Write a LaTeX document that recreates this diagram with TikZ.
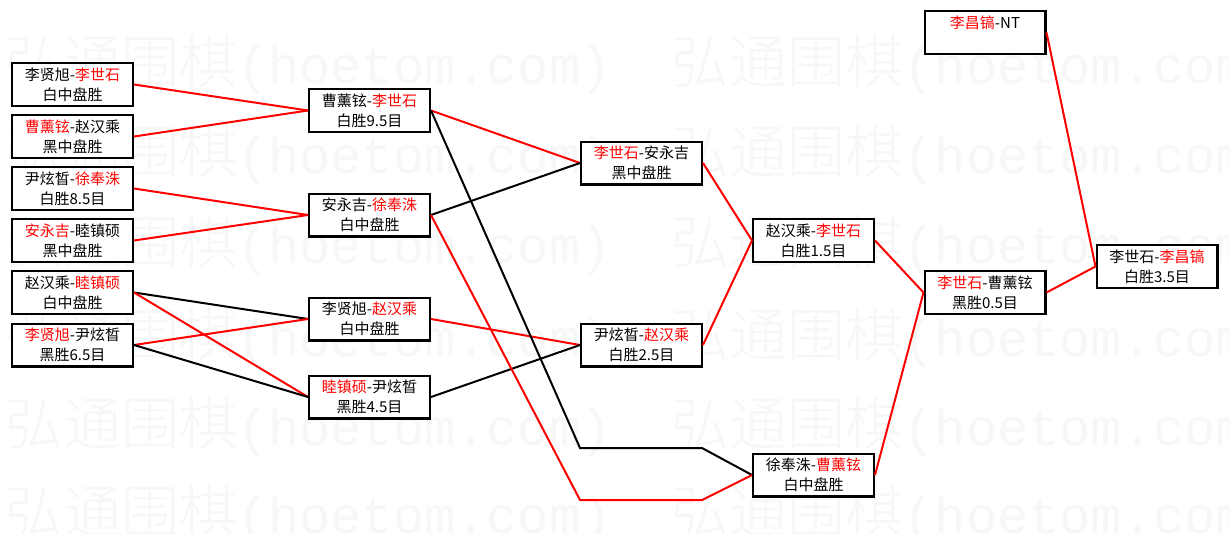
\documentclass[tikz,border=0pt]{standalone}
\usepackage{fontspec}
\newfontfamily\cjk{Noto Sans CJK SC}
\newfontfamily\wmcjk{Noto Sans CJK SC Light}
\newfontfamily\wmmono{Liberation Mono}
\newcommand{\rd}[1]{\textcolor{red}{#1}}
\newcommand{\wmark}{{\wmcjk\fontsize{58}{58}\selectfont 弘通围棋}{\wmmono\fontsize{52}{52}\selectfont(hoetom.com)}}

\begin{document}
\begin{tikzpicture}[x=1pt, y=-1pt,
    % Define the style for the game boxes
    game/.style={draw, line width=2.4pt, fill=white, minimum width=120.6pt, minimum height=42.6pt,
        inner sep=0pt, align=center, font=\cjk\fontsize{15}{20}\selectfont},
    % Define the styles for the connectors
    redline/.style={red, line width=2pt},
    blackline/.style={black, line width=2pt},
    watermark/.style={black!3, anchor=west, inner sep=0pt}
]
\useasboundingbox (0,0) rectangle (1229,533);
\fill[white] (0,0) rectangle (1229,533);

% Background watermark
\foreach \y [count=\i] in {65,155,245,338,427,515} {
    \node[watermark] (wm\i) at (5,\y) {\wmark\hspace{60pt}\wmark};
}

% Define the points of the boxes
\coordinate (A1) at (72.5,84.5);
\coordinate (A2) at (72.5,136.5);
\coordinate (A3) at (72.5,188.5);
\coordinate (A4) at (72.5,240.5);
\coordinate (A5) at (72.5,292.5);
\coordinate (A6) at (72.5,345);
\coordinate (B1) at (369.5,110.5);
\coordinate (B2) at (369.5,215);
\coordinate (B3) at (369.5,319);
\coordinate (B4) at (369.5,397);
\coordinate (C1) at (641.5,163);
\coordinate (C2) at (641.5,345);
\coordinate (D1) at (813.5,240.5);
\coordinate (D2) at (813.5,475);
\coordinate (E0) at (985,32.5);
\coordinate (E1) at (985,292.5);
\coordinate (F) at (1157,266.5);

% Round one
\node[game] (a1) at (A1) {李贤旭-\rd{李世石}\\白中盘胜};
\node[game] (a2) at (A2) {\rd{曹薰铉}-赵汉乘\\黑中盘胜};
\node[game] (a3) at (A3) {尹炫晳-\rd{徐奉洙}\\白胜8.5目};
\node[game] (a4) at (A4) {\rd{安永吉}-睦镇硕\\黑中盘胜};
\node[game] (a5) at (A5) {赵汉乘-\rd{睦镇硕}\\白中盘胜};
\node[game] (a6) at (A6) {\rd{李贤旭}-尹炫晳\\黑胜6.5目};

% Round two
\node[game] (b1) at (B1) {曹薰铉-\rd{李世石}\\白胜9.5目};
\node[game] (b2) at (B2) {安永吉-\rd{徐奉洙}\\白中盘胜};
\node[game] (b3) at (B3) {李贤旭-\rd{赵汉乘}\\白中盘胜};
\node[game] (b4) at (B4) {\rd{睦镇硕}-尹炫晳\\黑胜4.5目};

% Round three
\node[game] (c1) at (C1) {\rd{李世石}-安永吉\\黑中盘胜};
\node[game] (c2) at (C2) {尹炫晳-\rd{赵汉乘}\\白胜2.5目};

% Round four
\node[game] (d1) at (D1) {赵汉乘-\rd{李世石}\\白胜1.5目};
\node[game] (d2) at (D2) {徐奉洙-\rd{曹薰铉}\\白中盘胜};

% Final rounds
\node[game] (e0) at (E0) {\rd{李昌镐}-NT\\\phantom{白}};
\node[game] (e1) at (E1) {\rd{李世石}-曹薰铉\\黑胜0.5目};
\node[game] (f) at (F) {李世石-\rd{李昌镐}\\白胜3.5目};

% Bends of the long connectors
\coordinate (k1) at (580,448);
\coordinate (k2) at (702,448);
\coordinate (k3) at (580,500);
\coordinate (k4) at (702,500);

% Draw the connectors
\draw[redline] (a1.east) -- (b1.west);
\draw[redline] (a2.east) -- (b1.west);
\draw[redline] (a3.east) -- (b2.west);
\draw[redline] (a4.east) -- (b2.west);
\draw[blackline] (a5.east) -- (b3.west);
\draw[redline] (a5.east) -- (b4.west);
\draw[redline] (a6.east) -- (b3.west);
\draw[blackline] (a6.east) -- (b4.west);

\draw[redline] (b1.east) -- (c1.west);
\draw[blackline] (b2.east) -- (c1.west);
\draw[redline] (b3.east) -- (c2.west);
\draw[blackline] (b4.east) -- (c2.west);
\draw[blackline] (b1.east) -- (k1) -- (k2) -- (d2.west);
\draw[redline] (b2.east) -- (k3) -- (k4) -- (d2.west);

\draw[redline] (c1.east) -- (d1.west);
\draw[redline] (c2.east) -- (d1.west);
\draw[redline] (d1.east) -- (e1.west);
\draw[redline] (d2.east) -- (e1.west);
\draw[redline] (e0.east) -- (f.west);
\draw[redline] (e1.east) -- (f.west);

\end{tikzpicture}
\end{document}
